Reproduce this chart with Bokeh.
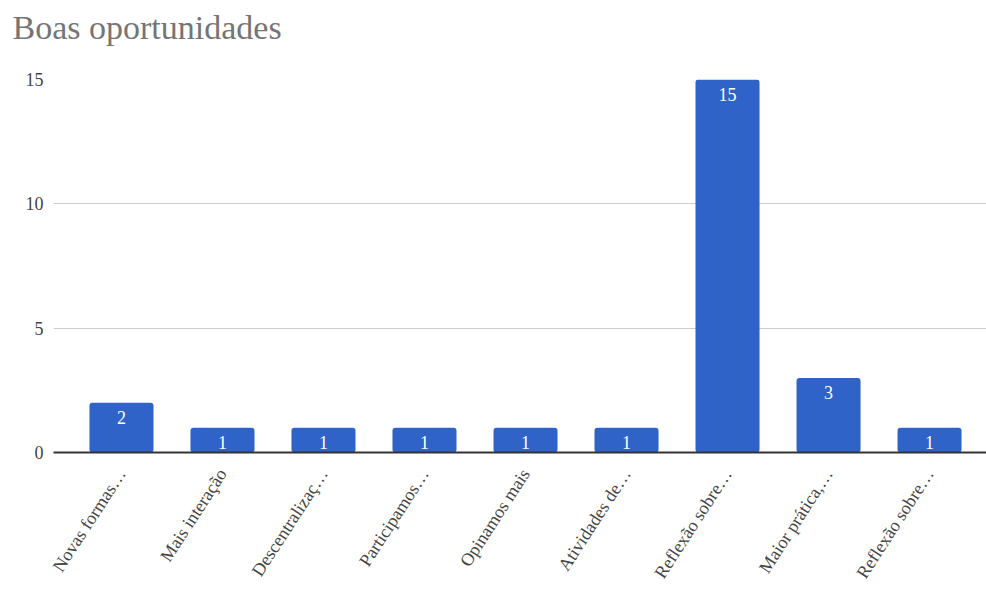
import math
from bokeh.plotting import figure
from bokeh.models import ColumnDataSource, FixedTicker, Range1d, Title
from bokeh.core.properties import value
from bokeh.embed import file_html
from bokeh.resources import INLINE

# Survey answers: "Boas oportunidades"
categories = [
    "Novas formas…",
    "Mais interação",
    "Descentralizaç…",
    "Participamos…",
    "Opinamos mais",
    "Atividades de…",
    "Reflexão sobre…",
    "Maior prática,…",
    "Reflexão sobre…",
]
counts = [2, 1, 1, 1, 1, 1, 15, 3, 1]
y_ticks = [0, 5, 10, 15]

SERIF = "Liberation Serif"
BAR_COLOR = "#3063c8"

xs = list(range(len(categories)))
source = ColumnDataSource(dict(
    x=xs,
    y=counts,
    label=[str(c) for c in counts],
))

p = figure(
    width=986,
    height=593,
    output_backend="svg",
    toolbar_location=None,
    x_range=Range1d(-0.673, 8.564),
    y_range=Range1d(0, 15),
    min_border_left=53,
    min_border_right=0,
    min_border_top=79,
    min_border_bottom=141,
    background_fill_color="white",
    border_fill_color="white",
    outline_line_color=None,
)

# blank band between the heading and the plot area
spacer = Title(text=" ", text_font_size="15px", standoff=10)
p.add_layout(spacer, "above")

heading = Title(
    text="Boas oportunidades",
    text_font=SERIF, text_font_size="34px", text_font_style="normal",
    text_color="#757575", align="left", offset=-41, standoff=10,
)
p.add_layout(heading, "above")

p.vbar(x="x", top="y", bottom=0, width=0.634, source=source,
       fill_color=BAR_COLOR, line_color=None, border_radius=3)

p.text(x="x", y="y", text="label", source=source,
       text_font=value(SERIF), text_font_size="18px", text_color="white",
       text_align="center", text_baseline="top", y_offset=8)

# y axis
p.yaxis.ticker = FixedTicker(ticks=y_ticks)
p.yaxis.axis_line_color = None
p.yaxis.major_tick_line_color = None
p.yaxis.minor_tick_line_color = None
p.yaxis.major_label_text_font = SERIF
p.yaxis.major_label_text_font_size = "18px"
p.yaxis.major_label_text_color = "#444444"
p.yaxis.major_label_standoff = 4

# x axis
p.xaxis.ticker = FixedTicker(ticks=xs)
p.xaxis.major_label_overrides = {i: c for i, c in zip(xs, categories)}
p.xaxis.major_label_orientation = math.radians(57)
p.xaxis.axis_line_color = "#333333"
p.xaxis.axis_line_width = 2
p.xaxis.major_tick_line_color = None
p.xaxis.minor_tick_line_color = None
p.xaxis.major_label_text_font = SERIF
p.xaxis.major_label_text_font_size = "18px"
p.xaxis.major_label_text_color = "#444444"
p.xaxis.major_label_standoff = 12

p.xgrid.grid_line_color = None
p.ygrid.ticker = FixedTicker(ticks=[5, 10, 15])
p.ygrid.grid_line_color = "#cccccc"
p.ygrid.grid_line_width = 1

open("out.html", "w").write(file_html(p, INLINE))
